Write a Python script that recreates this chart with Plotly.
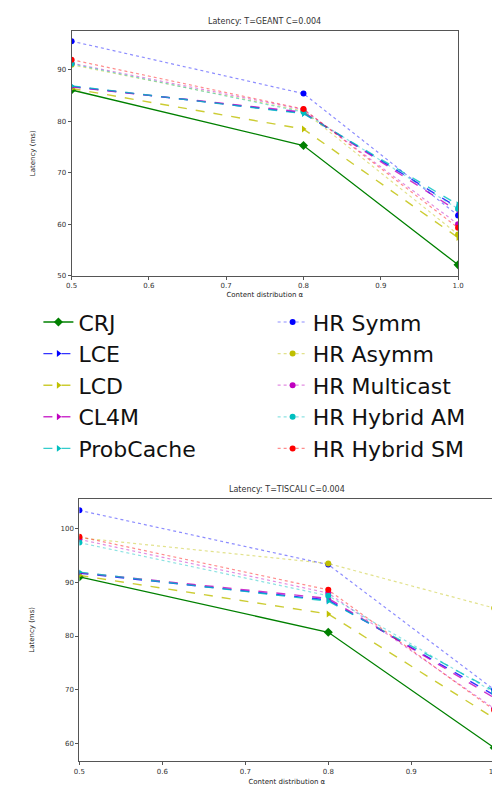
import plotly.graph_objects as go

x_vals = [0.5, 0.8, 1.0]
series_names = ["CRJ", "LCE", "LCD", "CL4M", "ProbCache",
                "HR Symm", "HR Asymm", "HR Multicast", "HR Hybrid AM", "HR Hybrid SM"]

geant = {
    "CRJ": [86.1, 75.3, 52.1],
    "LCE": [86.8, 81.6, 63.2],
    "LCD": [86.4, 78.5, 57.4],
    "CL4M": [86.7, 81.8, 62.5],
    "ProbCache": [86.9, 81.5, 63.8],
    "HR Symm": [95.6, 85.4, 61.7],
    "HR Asymm": [91.0, 82.0, 58.0],
    "HR Multicast": [91.3, 82.3, 60.0],
    "HR Hybrid AM": [91.2, 81.8, 63.0],
    "HR Hybrid SM": [92.0, 82.4, 59.3],
}
tiscali = {
    "CRJ": [91.0, 80.7, 59.2],
    "LCE": [91.7, 86.7, 69.0],
    "LCD": [91.3, 84.1, 64.7],
    "CL4M": [91.8, 87.0, 68.5],
    "ProbCache": [91.9, 86.5, 69.8],
    "HR Symm": [103.4, 93.3, 70.0],
    "HR Asymm": [98.3, 93.5, 85.2],
    "HR Multicast": [98.0, 88.0, 66.5],
    "HR Hybrid AM": [97.4, 87.5, 69.5],
    "HR Hybrid SM": [98.5, 88.6, 66.2],
}

colors = {
    "CRJ": (0, 128, 0), "LCE": (0, 0, 255), "LCD": (191, 191, 0),
    "CL4M": (191, 0, 191), "ProbCache": (0, 191, 191),
    "HR Symm": (0, 0, 255), "HR Asymm": (191, 191, 0), "HR Multicast": (191, 0, 191),
    "HR Hybrid AM": (0, 191, 191), "HR Hybrid SM": (255, 0, 0),
}

def rgba(c, a):
    return f"rgba({c[0]},{c[1]},{c[2]},{a})"

fig = go.Figure()
FONT = "DejaVu Sans"

for panel, data, xa, ya in [(0, geant, "x", "y"), (1, tiscali, "x2", "y2")]:
    for name in series_names:
        c = colors[name]
        if name == "CRJ":
            line = dict(color=rgba(c, 1), width=1.3, dash="solid")
            marker = dict(symbol="diamond", size=7, color=rgba(c, 1))
        elif name.startswith("HR"):
            line = dict(color=rgba(c, 0.45), width=1.2, dash="dot")
            marker = dict(symbol="circle", size=6, color=rgba(c, 1))
        else:
            line = dict(color=rgba(c, 0.8), width=1.4, dash="dash")
            marker = dict(symbol="triangle-right", size=6, color=rgba(c, 1))
        fig.add_trace(go.Scatter(
            x=x_vals, y=data[name], name=name, mode="lines+markers",
            line=line, marker=marker, xaxis=xa, yaxis=ya,
            showlegend=(panel == 0),
            legend=("legend" if not name.startswith("HR") else "legend2"),
        ))

axis_common = dict(showgrid=False, zeroline=False, showline=True, mirror=True,
                   linecolor="#555555", linewidth=1, ticks="outside", ticklen=3,
                   tickcolor="#555555", tickfont=dict(size=7, color="#333333", family=FONT))

fig.update_layout(
    width=500, height=790,
    margin=dict(l=0, r=0, t=0, b=0),
    paper_bgcolor="white", plot_bgcolor="white",
    font=dict(family=FONT, color="#222222"),
    xaxis=dict(domain=[0.118, 0.91], anchor="y", range=[0.5, 1.0],
               tickvals=[0.5, 0.6, 0.7, 0.8, 0.9, 1.0],
               ticktext=["0.5", "0.6", "0.7", "0.8", "0.9", "1.0"],
               title=dict(text="Content distribution \u03b1", font=dict(size=7), standoff=3),
               **axis_common),
    yaxis=dict(domain=[0.6595, 0.9709], anchor="x", range=[50, 97.6],
               tickvals=[50, 60, 70, 80, 90],
               title=dict(text="Latency (ms)", font=dict(size=7), standoff=20),
               **axis_common),
    xaxis2=dict(domain=[0.134, 0.984], anchor="y2", range=[0.5, 1.0],
                tickvals=[0.5, 0.6, 0.7, 0.8, 0.9, 1.0],
                ticktext=["0.5", "0.6", "0.7", "0.8", "0.9", "1.0"],
                title=dict(text="Content distribution \u03b1", font=dict(size=7), standoff=4),
                **axis_common),
    yaxis2=dict(domain=[0.0418, 0.3759], anchor="x2", range=[56.7, 105.6],
                tickvals=[60, 70, 80, 90, 100],
                title=dict(text="Latency (ms)", font=dict(size=7), standoff=25),
                **axis_common),
    legend=dict(x=0.05, y=0.627, xanchor="left", yanchor="top",
                font=dict(size=22, family=FONT, color="#111111"),
                bgcolor="rgba(255,255,255,0)", tracegroupgap=0),
    legend2=dict(x=0.53, y=0.627, xanchor="left", yanchor="top",
                 font=dict(size=22, family=FONT, color="#111111"),
                 bgcolor="rgba(255,255,255,0)", tracegroupgap=0),
    annotations=[
        dict(text="Latency: T=GEANT C=0.004", x=0.514, y=1 - 14 / 790, xref="paper", yref="paper",
             showarrow=False, font=dict(size=8, family=FONT, color="#333333"), yanchor="middle"),
        dict(text="Latency: T=TISCALI C=0.004", x=0.559, y=1 - 484 / 790, xref="paper", yref="paper",
             showarrow=False, font=dict(size=8, family=FONT, color="#333333"), yanchor="middle"),
    ],
)

fig.write_html("out.html")
